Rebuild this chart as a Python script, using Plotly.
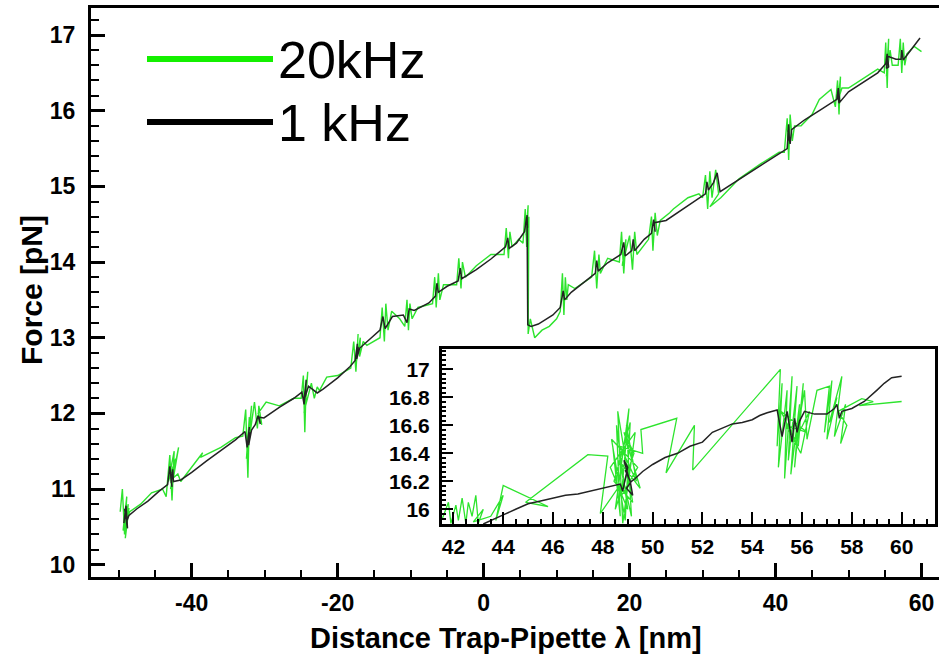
import plotly.graph_objects as go

# ---------------- data ----------------
# main panel, 1 kHz trace: (distance nm, force pN)
main_1khz = [
    (-49.3, 10.55), (-49.0, 10.78), (-48.8, 10.48), (-49.1, 10.68), (-48.9, 10.52), (-49.2, 10.74),
    (-48.9, 10.58), (-48.6, 10.65),
    (-47.5, 10.74), (-46.0, 10.84), (-44.5, 10.97), (-43.3, 11.06), (-43.0, 11.30), (-42.7, 11.03),
    (-42.9, 11.22), (-42.8, 11.08), (-42.6, 11.26), (-42.5, 11.10), (-41.5, 11.12), (-40.0, 11.22),
    (-38.0, 11.37), (-36.0, 11.51),
    (-34.0, 11.65), (-32.7, 11.76), (-32.4, 11.55), (-32.1, 11.82), (-32.3, 11.64), (-32.0, 11.75),
    (-32.2, 11.58), (-31.8, 11.78),
    (-31.3, 11.85), (-30.9, 11.97), (-30.6, 11.86), (-30.8, 11.95), (-30.1, 11.94), (-28.0, 12.08),
    (-26.0, 12.20), (-24.9, 12.28), (-24.6, 12.12), (-24.3, 12.44), (-24.5, 12.24), (-24.4, 12.40),
    (-24.6, 12.18), (-24.0, 12.36),
    (-23.3, 12.30), (-22.8, 12.27), (-22.0, 12.32), (-20.0, 12.47), (-18.3, 12.62), (-17.6, 12.70),
    (-17.3, 12.92), (-17.5, 12.76), (-17.2, 12.88), (-17.4, 12.72), (-17.0, 12.86), (-16.0, 12.95),
    (-14.2, 13.10), (-13.8, 13.28),
    (-13.5, 13.12), (-12.5, 13.28), (-11.0, 13.30), (-10.5, 13.20), (-10.2, 13.38), (-9.5, 13.36),
    (-7.5, 13.46), (-6.6, 13.55), (-6.4, 13.72), (-6.2, 13.60), (-5.0, 13.68), (-3.5, 13.75),
    (-3.2, 13.92), (-3.0, 13.78), (-1.0, 13.90), (1.0, 14.04), (3.0, 14.20), (3.3, 14.32),
    (3.5, 14.18), (4.5, 14.25), (5.6, 14.40), (5.9, 14.60), (6.0, 14.45), (5.95, 14.62),
    (6.05, 13.17),
    (6.5, 13.15), (7.5, 13.18), (8.5, 13.24), (9.5, 13.30), (10.5, 13.40), (10.9, 13.62),
    (11.1, 13.50), (12.0, 13.60), (14.0, 13.75), (15.3, 13.85), (15.5, 14.02), (15.7, 13.88),
    (17.0, 13.99), (18.8, 14.10), (19.2, 14.26), (19.4, 14.08), (20.3, 14.15), (20.5, 14.30),
    (20.7, 14.15), (22.0, 14.30), (23.0, 14.38), (23.3, 14.56), (23.5, 14.40), (23.4, 14.52),
    (25.0, 14.55),
    (27.0, 14.68), (29.0, 14.82), (30.4, 14.90), (30.6, 15.06), (30.8, 14.95), (31.5, 15.05),
    (32.0, 15.18), (32.4, 14.93), (34.0, 15.03), (36.0, 15.16), (38.0, 15.28), (40.0, 15.41),
    (41.6, 15.50), (41.8, 15.82), (41.9, 15.60), (41.7, 15.74), (42.0, 15.56), (42.2, 15.75),
    (44.0, 15.88), (46.0, 16.00),
    (48.4, 16.15), (48.6, 16.30), (48.8, 16.12), (48.5, 16.24), (48.7, 16.10), (50.0, 16.25),
    (52.0, 16.38), (54.0, 16.50),
    (55.1, 16.62), (55.3, 16.75), (55.5, 16.58), (55.2, 16.56), (55.4, 16.72), (56.5, 16.68),
    (57.2, 16.68), (57.3, 16.80),
    (57.5, 16.67), (58.5, 16.80), (59.8, 16.96),
]

# main panel, 20 kHz trace
main_20khz = [
    (-49.8, 10.70), (-49.5, 11.00), (-49.2, 10.40), (-48.9, 10.90), (-49.4, 10.45), (-48.7, 10.80),
    (-49.1, 10.35), (-48.6, 10.75), (-49.0, 10.55), (-48.5, 10.70), (-47.0, 10.80), (-45.5, 10.95),
    (-44.0, 11.00), (-43.5, 10.90), (-43.0, 11.45), (-42.7, 10.85), (-42.4, 11.50), (-43.2, 11.10),
    (-42.2, 11.40), (-42.9, 11.00), (-41.8, 11.55), (-42.5, 11.15), (-41.9, 11.20), (-41.5, 11.10),
    (-38.5, 11.48), (-38.8, 11.42), (-36.0, 11.55), (-34.0, 11.68), (-33.0, 11.70), (-32.6, 12.05),
    (-32.3, 11.15), (-32.1, 11.95), (-32.5, 11.40), (-31.8, 12.10), (-32.2, 11.60), (-31.4, 12.15),
    (-31.0, 11.80), (-30.8, 12.10), (-30.4, 11.85), (-30.9, 12.00), (-29.8, 12.15), (-28.0, 12.10),
    (-26.0, 12.20), (-25.0, 12.20), (-24.7, 12.50), (-24.5, 11.75), (-24.3, 12.45), (-24.6, 12.00),
    (-24.1, 12.55), (-24.4, 12.10), (-23.6, 12.40), (-23.2, 12.20), (-22.8, 12.35), (-22.5, 12.30),
    (-21.5, 12.48), (-20.0, 12.50), (-18.2, 12.60), (-17.8, 12.95), (-17.5, 12.55), (-17.2, 13.05),
    (-17.4, 12.70), (-16.9, 13.00), (-17.0, 12.75), (-16.5, 12.95), (-16.0, 12.90), (-14.2, 13.00),
    (-13.9, 13.40), (-13.6, 12.95), (-13.4, 13.45), (-13.1, 13.10), (-12.6, 13.35), (-11.5, 13.25),
    (-10.8, 13.15), (-10.5, 13.50), (-10.3, 13.10), (-10.1, 13.45), (-9.8, 13.25), (-9.0, 13.40),
    (-7.0, 13.45), (-6.7, 13.80), (-6.5, 13.40), (-6.2, 13.85), (-6.0, 13.50), (-5.5, 13.70),
    (-3.7, 13.70), (-3.4, 14.05), (-3.1, 13.65), (-2.9, 14.00), (-2.5, 13.80), (-1.0, 13.95),
    (1.0, 14.10), (2.8, 14.10), (3.1, 14.45), (3.4, 14.05), (3.6, 14.40), (3.9, 14.20),
    (4.8, 14.30), (5.4, 14.25), (5.7, 14.70), (5.9, 14.20), (6.1, 14.75), (5.8, 14.35),
    (6.2, 14.60), (6.1, 13.05), (6.4, 13.25), (7.0, 13.00), (8.0, 13.10), (9.0, 13.15),
    (10.0, 13.25), (10.5, 13.35), (10.8, 13.85), (11.0, 13.30), (11.2, 13.80), (11.4, 13.50),
    (11.6, 13.70), (12.5, 13.65), (14.8, 13.80), (15.2, 14.15), (15.5, 13.65), (15.8, 14.10),
    (16.0, 13.85), (17.0, 14.05), (18.6, 14.00), (18.9, 14.40), (19.2, 13.85), (19.5, 14.30),
    (19.0, 13.95), (20.0, 14.35), (20.4, 13.90), (20.7, 14.40), (21.0, 14.10), (22.6, 14.30),
    (23.0, 14.60), (23.2, 14.15), (23.5, 14.65), (23.8, 14.35), (24.2, 14.55), (25.5, 14.65),
    (26.0, 14.70), (28.0, 14.85), (29.5, 14.90), (30.0, 14.85), (30.4, 15.15), (30.7, 14.70),
    (31.0, 15.20), (31.3, 14.85), (31.8, 15.22), (32.2, 14.90), (31.0, 14.73), (32.5, 14.85),
    (35.0, 15.10), (38.0, 15.30), (40.5, 15.45), (41.2, 15.45), (41.6, 15.90), (41.8, 15.35),
    (42.0, 15.95), (42.3, 15.60), (42.6, 15.80), (43.5, 15.80), (45.0, 15.95), (46.0, 16.15),
    (47.6, 16.28), (48.2, 16.05), (48.5, 16.40), (48.7, 15.95), (48.9, 16.45), (48.6, 16.15),
    (49.1, 16.30), (50.0, 16.30), (52.0, 16.42), (54.0, 16.55), (54.9, 16.50), (55.1, 16.90),
    (55.3, 16.30), (55.5, 16.95), (55.2, 16.45), (55.7, 16.80), (56.0, 16.60), (56.8, 16.60),
    (57.1, 16.95), (57.3, 16.50), (57.5, 16.90), (57.7, 16.60), (58.0, 16.75), (59.0, 16.85),
    (60.0, 16.78),
]

# inset, 1 kHz trace
inset_1khz = [
    (43.2, 15.895), (43.6, 15.93), (44.0, 15.96), (44.5, 16.00), (45.0, 16.04), (45.5, 16.06),
    (46.0, 16.08), (46.5, 16.10), (47.0, 16.11), (47.5, 16.13), (48.0, 16.15), (48.4, 16.17),
    (48.7, 16.18), (48.8, 16.13), (49.0, 16.30), (48.85, 16.35), (49.05, 16.22), (48.9, 16.28),
    (49.1, 16.20), (49.2, 16.10), (48.95, 16.15), (49.15, 16.20), (49.3, 16.22), (49.6, 16.27),
    (50.0, 16.32), (50.5, 16.37), (51.0, 16.40), (51.5, 16.45), (52.0, 16.48), (52.4, 16.55),
    (52.8, 16.58), (53.2, 16.61), (53.6, 16.62), (54.0, 16.64), (54.3, 16.67), (54.6, 16.69),
    (55.0, 16.71), (55.2, 16.52), (55.4, 16.70), (55.6, 16.48), (55.7, 16.65), (55.8, 16.55),
    (55.9, 16.63), (56.1, 16.70), (56.5, 16.68), (57.0, 16.68), (57.3, 16.72), (57.4, 16.75),
    (57.5, 16.65), (57.6, 16.70), (58.0, 16.72), (58.5, 16.77), (59.0, 16.85), (59.3, 16.90),
    (59.6, 16.94), (60.0, 16.95),
]

# inset, 20 kHz trace
inset_20khz = [
    (41.55, 15.93), (41.8, 16.05), (41.9, 15.90), (42.1, 16.03), (42.2, 15.92), (42.35, 16.08),
    (42.5, 15.90), (42.6, 16.05), (42.75, 15.95), (42.9, 16.10), (43.0, 15.90), (43.2, 16.00),
    (42.8, 15.91), (43.5, 15.95), (44.0, 16.10), (43.7, 15.92), (44.0, 16.17), (45.8, 16.02),
    (44.9, 16.05), (47.4, 16.39), (48.2, 16.38), (47.9, 15.97), (48.6, 16.15), (48.4, 16.45),
    (48.7, 15.95), (48.55, 16.60), (49.0, 16.00), (48.3, 16.30), (49.3, 16.55), (48.8, 15.90),
    (48.6, 16.70), (49.2, 16.05), (48.45, 16.20), (49.1, 16.62), (48.9, 15.92), (48.35, 16.50),
    (49.4, 16.30), (48.75, 16.10), (49.05, 16.72), (48.5, 16.00), (49.25, 16.40), (48.85, 16.55),
    (49.5, 16.15), (48.65, 16.35), (49.15, 15.95), (48.95, 16.60), (49.35, 16.20), (48.7, 16.45),
    (49.6, 16.40), (49.53, 16.57), (50.97, 16.65), (50.54, 16.26), (51.68, 16.60), (51.61, 16.28),
    (55.13, 17.00), (55.0, 16.45), (55.2, 16.90), (55.05, 16.30), (55.4, 16.85), (55.3, 16.22),
    (55.6, 16.95), (55.45, 16.35), (55.8, 16.88), (55.55, 16.25), (55.9, 16.75), (55.7, 16.30),
    (56.05, 16.90), (55.85, 16.45), (55.15, 16.70), (56.2, 16.55), (55.35, 16.60), (55.95, 16.40),
    (56.3, 16.70), (55.75, 16.50), (56.1, 16.85), (56.2, 16.50), (56.6, 16.85), (57.1, 16.88),
    (56.9, 16.55), (57.2, 16.92), (57.0, 16.50), (57.4, 16.80), (57.1, 16.62), (57.6, 16.95),
    (57.3, 16.52), (57.75, 16.75), (57.55, 16.47), (57.8, 16.60), (57.45, 16.70), (58.4, 16.79),
    (58.86, 16.77), (58.3, 16.74), (60.0, 16.77),
]

# tick labels (plain hyphen minus, as in the original)
main_xticks = [-40, -20, 0, 20, 40, 60]
main_xticklabels = ["-40", "-20", "0", "20", "40", "60"]
main_yticks = [10, 11, 12, 13, 14, 15, 16, 17]
inset_xticks = [42, 44, 46, 48, 50, 52, 54, 56, 58, 60]
inset_yticks = [16, 16.2, 16.4, 16.6, 16.8, 17]
inset_yticklabels = ["16", "16.2", "16.4", "16.6", "16.8", "17"]

legend_labels = ["20kHz", "1 kHz"]
x_title = "Distance Trap-Pipette λ [nm]"
y_title = "Force [pN]"

# ---------------- figure ----------------
GREEN = "rgb(45,228,45)"
LEG_GREEN = "rgb(20,240,0)"
BLACK_LINE = "rgb(35,35,35)"
FONT = "Liberation Sans, Arial, sans-serif"


def xs(p):
    return [a for a, _ in p]


def ys(p):
    return [b for _, b in p]


fig = go.Figure()
fig.add_trace(go.Scatter(x=xs(main_20khz), y=ys(main_20khz), mode="lines",
                         line=dict(color=GREEN, width=1.4), xaxis="x", yaxis="y",
                         name=legend_labels[0], showlegend=False))
fig.add_trace(go.Scatter(x=xs(main_1khz), y=ys(main_1khz), mode="lines",
                         line=dict(color=BLACK_LINE, width=1.5), xaxis="x", yaxis="y",
                         name=legend_labels[1], showlegend=False))
fig.add_trace(go.Scatter(x=xs(inset_20khz), y=ys(inset_20khz), mode="lines",
                         line=dict(color=GREEN, width=1.3), xaxis="x2", yaxis="y2",
                         showlegend=False))
fig.add_trace(go.Scatter(x=xs(inset_1khz), y=ys(inset_1khz), mode="lines",
                         line=dict(color=BLACK_LINE, width=1.5), xaxis="x2", yaxis="y2",
                         showlegend=False))

W, H = 939, 657
L, R, T, B = 91, 0, 8, 80
PW, PH = W - L - R, H - T - B


def px(xp):
    return (xp - L) / PW


def py(yp):
    return (H - B - yp) / PH


fig.update_layout(
    width=W, height=H,
    margin=dict(l=L, r=R, t=T, b=B),
    paper_bgcolor="white", plot_bgcolor="white",
    font=dict(family=FONT, color="black"),
    showlegend=False,
    xaxis=dict(
        domain=[0, 1], range=[-53.8, 62.4],
        tickmode="array", tickvals=main_xticks, ticktext=main_xticklabels,
        ticks="inside", ticklen=14, tickwidth=3, tickcolor="black",
        showline=True, linewidth=3, linecolor="black", mirror=True,
        showgrid=False, zeroline=False,
        tickfont=dict(size=23, family=FONT, weight="bold"),
        ticklabelstandoff=3,
        minor=dict(dtick=5, tick0=0, ticks="inside", ticklen=7, tickwidth=2, tickcolor="black",
                   showgrid=False),
    ),
    yaxis=dict(
        domain=[0, 1], range=[9.838, 17.357],
        tickmode="array", tickvals=main_yticks,
        ticks="inside", ticklen=14, tickwidth=3, tickcolor="black",
        showline=True, linewidth=3, linecolor="black", mirror=False,
        showgrid=False, zeroline=False,
        tickfont=dict(size=23, family=FONT, weight="bold"),
        ticklabelstandoff=8,
        minor=dict(dtick=0.2, tick0=10, ticks="inside", ticklen=8, tickwidth=2, tickcolor="black",
                   showgrid=False),
    ),
    xaxis2=dict(
        domain=[px(441.7), px(935)], anchor="y2", range=[41.53, 61.34],
        tickmode="array", tickvals=inset_xticks,
        ticks="inside", ticklen=12, tickwidth=2, tickcolor="black",
        showline=True, linewidth=2.5, linecolor="black", mirror=True,
        showgrid=False, zeroline=False,
        tickfont=dict(size=21, family=FONT, weight="bold"),
        ticklabelstandoff=2,
        minor=dict(dtick=0.5, tick0=42, ticks="inside", ticklen=5, tickwidth=1.5, tickcolor="black",
                   showgrid=False),
    ),
    yaxis2=dict(
        domain=[py(524), py(349.3)], anchor="x2", range=[15.895, 17.143],
        tickmode="array", tickvals=inset_yticks, ticktext=inset_yticklabels,
        ticks="inside", ticklen=12, tickwidth=2, tickcolor="black",
        showline=True, linewidth=2.5, linecolor="black", mirror=True,
        showgrid=False, zeroline=False,
        tickfont=dict(size=21, family=FONT, weight="bold"),
        ticklabelstandoff=5,
        minor=dict(dtick=0.2 / 6, tick0=16, ticks="inside", ticklen=5, tickwidth=1.5,
                   tickcolor="black", showgrid=False),
    ),
)

# inset background
fig.add_shape(type="rect", xref="paper", yref="paper",
              x0=px(441.7), x1=px(935), y0=py(524), y1=py(349.3),
              fillcolor="white", line=dict(width=0), layer="below")

# legend drawn by hand (long line samples)
fig.add_shape(type="line", xref="paper", yref="paper", x0=px(147), x1=px(273),
              y0=py(59), y1=py(59), line=dict(color=LEG_GREEN, width=6))
fig.add_shape(type="line", xref="paper", yref="paper", x0=px(147), x1=px(273),
              y0=py(122), y1=py(122), line=dict(color="black", width=6))
fig.add_annotation(text=legend_labels[0], xref="paper", yref="paper", x=px(276), y=py(60),
                   xanchor="left", yanchor="middle", showarrow=False,
                   font=dict(size=52, family=FONT, color="black"))
fig.add_annotation(text=legend_labels[1], xref="paper", yref="paper", x=px(276), y=py(123),
                   xanchor="left", yanchor="middle", showarrow=False,
                   font=dict(size=52, family=FONT, color="black"))

# axis titles
fig.add_annotation(text=x_title, xref="paper", yref="paper", x=px(506), y=py(638),
                   xanchor="center", yanchor="middle", showarrow=False,
                   font=dict(size=29, family=FONT, color="black", weight="bold"))
fig.add_annotation(text=y_title, xref="paper", yref="paper", x=px(31), y=py(290),
                   xanchor="center", yanchor="middle", showarrow=False, textangle=-90,
                   font=dict(size=30, family=FONT, color="black", weight="bold"))

fig.write_html("out.html")
